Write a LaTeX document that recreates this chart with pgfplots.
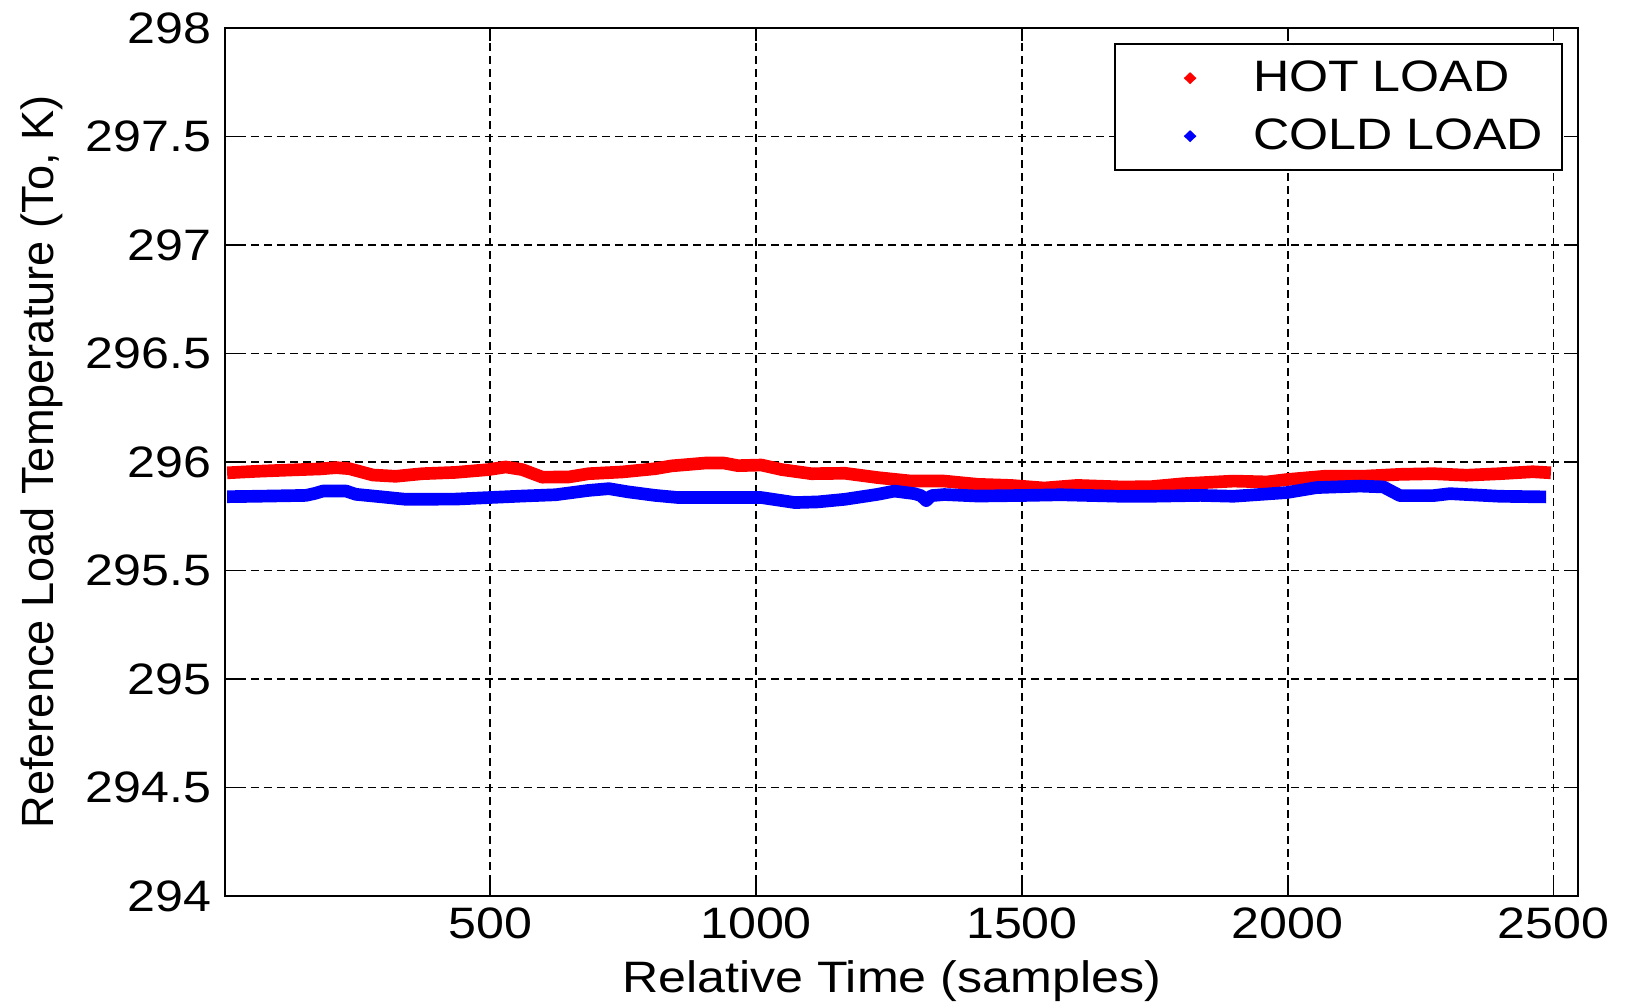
\documentclass[border=0pt]{standalone}
\usepackage{pgfplots}
\pgfplotsset{compat=1.18}
\usepackage{fontspec}
\setmainfont{Liberation Sans}[FakeStretch=1.14]
\newfontfamily\ylabfont{Liberation Sans}
\newcommand{\fs}{\fontsize{13.2}{15}\selectfont}
\begin{document}
\begin{tikzpicture}
\begin{axis}[name=ax, scale only axis, width=405.9pt, height=260.4pt,
  xmin=1, xmax=2546, ymin=294, ymax=298,
  xtick={500,1000,1500,2000,2500},
  ytick={294,294.5,295,295.5,296,296.5,297,297.5,298},
  /pgf/number format/assume math mode=true,
  /pgf/number format/1000 sep={},
  tick align=inside, major tick length=4pt,
  tick style={black, line width=0.5pt},
  axis line style={black, line width=0.6pt},
  grid=major,
  major grid style={black, dash pattern=on 2.4pt off 1.5pt, line width=0.5pt},
  tick label style={font=\fs},
  yticklabel style={xshift=-0.6pt},
  xlabel={Relative Time (samples)},
  ylabel={Reference Load Temperature (To, K)},
  x label style={font=\fs, at={(axis description cs:0.4926,-0.1117)}, anchor=base},
  y label style={font=\ylabfont\fontsize{13.55}{15}\selectfont, at={(axis description cs:-0.1264,0.5)}, anchor=base, rotate=0},
  legend cell align=left,
  legend style={at={(1,1)}, anchor=north east, xshift=-4.5pt, yshift=-4.65pt,
    draw=black, line width=0.6pt, inner xsep=0pt, inner ysep=1.4pt,
    font=\fs, nodes={inner sep=0pt}, row sep=0pt},
]
\addplot[red, line width=3.8pt, line join=round,
  legend image code/.code={\path[draw=none,fill=none] (-22.5pt,-8.7pt) rectangle (18.9pt,8.7pt);
    \fill[red, draw=none] (0,1.8pt)--(1.9pt,0)--(0,-1.8pt)--(-1.9pt,0)--cycle;}]
coordinates {
(5,295.950) (60,295.957) (122,295.963) (180,295.968) (210,295.974) (235,295.969)
(279,295.940) (322,295.934) (372,295.946) (435,295.952) (497,295.965) (529,295.977)
(560,295.965) (598,295.930) (648,295.931) (685,295.946) (748,295.954) (810,295.969)
(841,295.982) (904,295.995) (940,295.995) (966,295.983) (1010,295.986) (1048,295.965)
(1104,295.946) (1167,295.948) (1229,295.928) (1292,295.912) (1354,295.912) (1417,295.897)
(1479,295.892) (1542,295.880) (1604,295.892) (1686,295.885) (1742,295.886) (1804,295.900)
(1898,295.912) (1961,295.908) (1998,295.919) (2073,295.935) (2148,295.935) (2211,295.943)
(2274,295.946) (2336,295.939) (2399,295.946) (2461,295.955) (2495,295.950)
};
\addlegendentry{HOT LOAD}
\addplot[blue, line width=3.8pt, line join=round,
  legend image code/.code={\path[draw=none,fill=none] (-22.5pt,-8.7pt) rectangle (18.9pt,8.7pt);
    \fill[blue, draw=none] (0,1.8pt)--(1.9pt,0)--(0,-1.8pt)--(-1.9pt,0)--cycle;}]
coordinates {
(5,295.840) (60,295.842) (153,295.846) (170,295.855) (185,295.866) (229,295.866)
(247,295.851) (297,295.839) (341,295.828) (435,295.829) (497,295.836) (560,295.843)
(623,295.849) (685,295.869) (723,295.877) (760,295.862) (810,295.846) (854,295.836)
(904,295.836) (1010,295.836) (1073,295.813) (1116,295.816) (1167,295.828) (1229,295.851)
(1260,295.866) (1298,295.854) (1310,295.845) (1320,295.822) (1330,295.845) (1354,295.850)
(1417,295.843) (1511,295.846) (1573,295.849) (1686,295.842) (1742,295.842) (1836,295.846)
(1898,295.842) (1998,295.859) (2054,295.882) (2136,295.889) (2180,295.885) (2211,295.845)
(2274,295.845) (2305,295.854) (2399,295.842) (2486,295.839)
};
\addlegendentry{COLD LOAD\hspace*{5.7pt}}
\end{axis}
\pgfresetboundingbox
\path[use as bounding box] ([xshift=-67.5pt,yshift=-32.4pt]ax.south west) rectangle ([xshift=14.1pt,yshift=8.4pt]ax.north east);
\end{tikzpicture}
\end{document}
